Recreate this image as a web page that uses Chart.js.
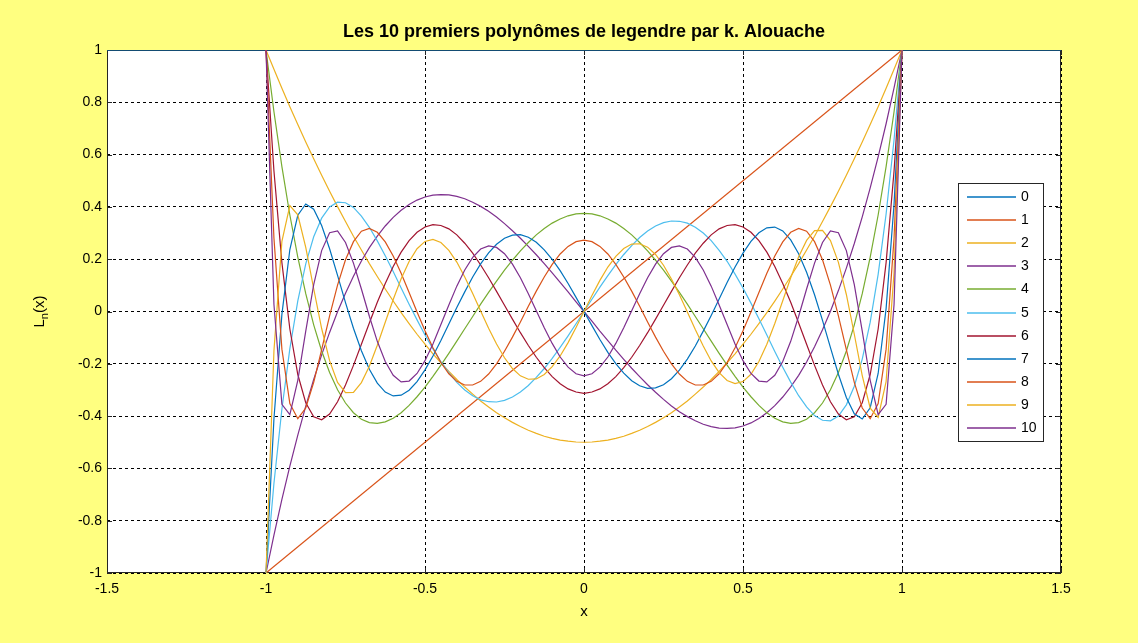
<!DOCTYPE html>
<html>
<head>
<meta charset="utf-8">
<script src="https://cdn.jsdelivr.net/npm/chart.js@4.4.1/dist/chart.umd.min.js"></script>
<style>
  html, body { margin: 0; padding: 0; background: #ffff80; }
  canvas { display: block; }
</style>
</head>
<body>
<canvas id="myChart" width="1138" height="643"></canvas>
<script>
// x samples (step 0.025 on [-1, 1])
var xs = [-1, -0.975, -0.95, -0.925, -0.9, -0.875, -0.85, -0.825, -0.8, -0.775,
  -0.75, -0.725, -0.7, -0.675, -0.65, -0.625, -0.6, -0.575, -0.55, -0.525,
  -0.5, -0.475, -0.45, -0.425, -0.4, -0.375, -0.35, -0.325, -0.3, -0.275,
  -0.25, -0.225, -0.2, -0.175, -0.15, -0.125, -0.1, -0.075, -0.05, -0.025,
  0,
  0.025, 0.05, 0.075, 0.1, 0.125, 0.15, 0.175, 0.2, 0.225, 0.25,
  0.275, 0.3, 0.325, 0.35, 0.375, 0.4, 0.425, 0.45, 0.475, 0.5,
  0.525, 0.55, 0.575, 0.6, 0.625, 0.65, 0.675, 0.7, 0.725, 0.75,
  0.775, 0.8, 0.825, 0.85, 0.875, 0.9, 0.925, 0.95, 0.975, 1];

var xs0 = [-1.5, 1.5];
var p0  = [1, 1];
var xs1 = [-1, 1];
var p1  = [-1, 1];

var p2 = [1, 0.926, 0.854, 0.783, 0.715, 0.648, 0.584, 0.521, 0.46, 0.401, 0.344, 0.288, 0.235, 0.183, 0.134, 0.086, 0.04, -0.004, -0.046, -0.087, -0.125, -0.162, -0.196, -0.229, -0.26, -0.289, -0.316, -0.342, -0.365, -0.387, -0.406, -0.424, -0.44, -0.454, -0.466, -0.477, -0.485, -0.492, -0.496, -0.499,
  -0.5,
  -0.499, -0.496, -0.492, -0.485, -0.477, -0.466, -0.454, -0.44, -0.424, -0.406, -0.387, -0.365, -0.342, -0.316, -0.289, -0.26, -0.229, -0.196, -0.162, -0.125, -0.087, -0.046, -0.004, 0.04, 0.086, 0.134, 0.183, 0.235, 0.288, 0.344, 0.401, 0.46, 0.521, 0.584, 0.648, 0.715, 0.783, 0.854, 0.926, 1];

var p3 = [-1, -0.855, -0.718, -0.591, -0.473, -0.362, -0.26, -0.166, -0.08, -0.001, 0.07, 0.135, 0.193, 0.244, 0.288, 0.327, 0.36, 0.387, 0.409, 0.426, 0.438, 0.445, 0.447, 0.446, 0.44, 0.431, 0.418, 0.402, 0.383, 0.361, 0.336, 0.309, 0.28, 0.249, 0.217, 0.183, 0.148, 0.111, 0.075, 0.037,
  0,
  -0.037, -0.075, -0.111, -0.148, -0.183, -0.217, -0.249, -0.28, -0.309, -0.336, -0.361, -0.383, -0.402, -0.418, -0.431, -0.44, -0.446, -0.447, -0.445, -0.438, -0.426, -0.409, -0.387, -0.36, -0.327, -0.288, -0.244, -0.193, -0.135, -0.07, 0.001, 0.08, 0.166, 0.26, 0.362, 0.473, 0.591, 0.718, 0.855, 1];

var p4 = [1, 0.764, 0.554, 0.369, 0.208, 0.068, -0.051, -0.151, -0.233, -0.299, -0.35, -0.387, -0.412, -0.425, -0.428, -0.422, -0.408, -0.387, -0.359, -0.326, -0.289, -0.248, -0.205, -0.16, -0.113, -0.066, -0.019, 0.028, 0.073, 0.116, 0.158, 0.196, 0.232, 0.264, 0.293, 0.317, 0.338, 0.354, 0.366, 0.373,
  0.375,
  0.373, 0.366, 0.354, 0.338, 0.317, 0.293, 0.264, 0.232, 0.196, 0.158, 0.116, 0.073, 0.028, -0.019, -0.066, -0.113, -0.16, -0.205, -0.248, -0.289, -0.326, -0.359, -0.387, -0.408, -0.422, -0.428, -0.425, -0.412, -0.387, -0.35, -0.299, -0.233, -0.151, -0.051, 0.068, 0.208, 0.369, 0.554, 0.764, 1];

var p5 = [-1, -0.657, -0.373, -0.142, 0.041, 0.182, 0.286, 0.357, 0.4, 0.418, 0.416, 0.398, 0.365, 0.322, 0.27, 0.213, 0.153, 0.09, 0.028, -0.032, -0.09, -0.143, -0.192, -0.234, -0.271, -0.3, -0.322, -0.338, -0.345, -0.346, -0.34, -0.327, -0.308, -0.283, -0.252, -0.218, -0.179, -0.137, -0.093, -0.047,
  0,
  0.047, 0.093, 0.137, 0.179, 0.218, 0.252, 0.283, 0.308, 0.327, 0.34, 0.346, 0.345, 0.338, 0.322, 0.3, 0.271, 0.234, 0.192, 0.143, 0.09, 0.032, -0.028, -0.09, -0.153, -0.213, -0.27, -0.322, -0.365, -0.398, -0.416, -0.418, -0.4, -0.357, -0.286, -0.182, -0.041, 0.142, 0.373, 0.657, 1];

var p6 = [1, 0.537, 0.187, -0.067, -0.241, -0.349, -0.403, -0.414, -0.392, -0.345, -0.281, -0.206, -0.125, -0.044, 0.035, 0.107, 0.172, 0.227, 0.271, 0.303, 0.323, 0.332, 0.329, 0.316, 0.293, 0.261, 0.223, 0.178, 0.129, 0.077, 0.024, -0.029, -0.081, -0.13, -0.175, -0.215, -0.249, -0.276, -0.296, -0.308,
  -0.313,
  -0.308, -0.296, -0.276, -0.249, -0.215, -0.175, -0.13, -0.081, -0.029, 0.024, 0.077, 0.129, 0.178, 0.223, 0.261, 0.293, 0.316, 0.329, 0.332, 0.323, 0.303, 0.271, 0.227, 0.172, 0.107, 0.035, -0.044, -0.125, -0.206, -0.281, -0.345, -0.392, -0.414, -0.403, -0.349, -0.241, -0.067, 0.187, 0.537, 1];

var p7 = [-1, -0.41, -0.011, 0.237, 0.368, 0.411, 0.391, 0.329, 0.24, 0.138, 0.034, -0.064, -0.15, -0.221, -0.274, -0.308, -0.323, -0.32, -0.301, -0.268, -0.223, -0.17, -0.111, -0.048, 0.015, 0.075, 0.132, 0.182, 0.224, 0.257, 0.28, 0.292, 0.294, 0.284, 0.265, 0.236, 0.199, 0.156, 0.107, 0.054,
  0,
  -0.054, -0.107, -0.156, -0.199, -0.236, -0.265, -0.284, -0.294, -0.292, -0.28, -0.257, -0.224, -0.182, -0.132, -0.075, -0.015, 0.048, 0.111, 0.17, 0.223, 0.268, 0.301, 0.32, 0.323, 0.308, 0.274, 0.221, 0.15, 0.064, -0.034, -0.138, -0.24, -0.329, -0.391, -0.411, -0.368, -0.237, 0.011, 0.41, 1];

var p8 = [1, 0.28, -0.144, -0.352, -0.41, -0.369, -0.271, -0.146, -0.017, 0.101, 0.198, 0.267, 0.307, 0.318, 0.303, 0.266, 0.212, 0.146, 0.073, -0.002, -0.074, -0.139, -0.195, -0.238, -0.267, -0.281, -0.281, -0.267, -0.239, -0.2, -0.152, -0.098, -0.04, 0.02, 0.078, 0.132, 0.18, 0.22, 0.249, 0.267,
  0.273,
  0.267, 0.249, 0.22, 0.18, 0.132, 0.078, 0.02, -0.04, -0.098, -0.152, -0.2, -0.239, -0.267, -0.281, -0.281, -0.267, -0.238, -0.195, -0.139, -0.074, -0.002, 0.073, 0.146, 0.212, 0.266, 0.303, 0.318, 0.307, 0.267, 0.198, 0.101, -0.017, -0.146, -0.271, -0.369, -0.41, -0.352, -0.144, 0.28, 1];

var p9 = [-1, -0.15, 0.268, 0.405, 0.37, 0.245, 0.087, -0.065, -0.188, -0.271, -0.31, -0.309, -0.272, -0.209, -0.129, -0.041, 0.046, 0.125, 0.191, 0.24, 0.268, 0.276, 0.264, 0.234, 0.189, 0.132, 0.069, 0.002, -0.064, -0.124, -0.177, -0.218, -0.246, -0.259, -0.258, -0.241, -0.211, -0.17, -0.119, -0.061,
  0,
  0.061, 0.119, 0.17, 0.211, 0.241, 0.258, 0.259, 0.246, 0.218, 0.177, 0.124, 0.064, -0.002, -0.069, -0.132, -0.189, -0.234, -0.264, -0.276, -0.268, -0.24, -0.191, -0.125, -0.046, 0.041, 0.129, 0.209, 0.272, 0.309, 0.31, 0.271, 0.188, 0.065, -0.087, -0.245, -0.37, -0.405, -0.268, 0.15, 1];

var p10 = [1, 0.027, -0.355, -0.394, -0.263, -0.075, 0.103, 0.233, 0.301, 0.308, 0.264, 0.185, 0.086, -0.018, -0.114, -0.191, -0.244, -0.269, -0.266, -0.237, -0.188, -0.124, -0.05, 0.025, 0.097, 0.159, 0.207, 0.239, 0.251, 0.245, 0.221, 0.181, 0.129, 0.068, 0.003, -0.062, -0.122, -0.174, -0.213, -0.238,
  -0.246,
  -0.238, -0.213, -0.174, -0.122, -0.062, 0.003, 0.068, 0.129, 0.181, 0.221, 0.245, 0.251, 0.239, 0.207, 0.159, 0.097, 0.025, -0.05, -0.124, -0.188, -0.237, -0.266, -0.269, -0.244, -0.191, -0.114, -0.018, 0.086, 0.185, 0.264, 0.308, 0.301, 0.233, 0.103, -0.075, -0.263, -0.394, -0.355, 0.027, 1];

var names  = ["0", "1", "2", "3", "4", "5", "6", "7", "8", "9", "10"];
var colors = ["#0072bd", "#d95319", "#edb120", "#7e2f8e", "#77ac30", "#4dbeee",
              "#a2142f", "#0072bd", "#d95319", "#edb120", "#7e2f8e"];

var xTicks = [-1.5, -1, -0.5, 0, 0.5, 1, 1.5];
var yTicks = [-1, -0.8, -0.6, -0.4, -0.2, 0, 0.2, 0.4, 0.6, 0.8, 1];

var titleText = "Les 10 premiers polynômes de legendre par k. Alouache";
var FONT = "'Liberation Sans', Arial, Helvetica, sans-serif";

function pts(xv, yv) {
  var out = [];
  for (var i = 0; i < xv.length; i++) out.push({x: xv[i], y: yv[i]});
  return out;
}

var series = [
  pts(xs0, p0), pts(xs1, p1), pts(xs, p2), pts(xs, p3), pts(xs, p4), pts(xs, p5),
  pts(xs, p6), pts(xs, p7), pts(xs, p8), pts(xs, p9), pts(xs, p10)
];

var datasets = [];
for (var k = 0; k < series.length; k++) {
  datasets.push({
    label: names[k],
    data: series[k],
    borderColor: colors[k],
    backgroundColor: colors[k],
    borderWidth: 1.2,
    pointRadius: 0,
    tension: 0,
    fill: false,
    order: series.length - k
  });
}

// axes box, inner ticks, title, labels and legend drawn like the matlab figure
var matlabBits = {
  id: "matlabBits",
  beforeDraw: function(chart) {
    var ctx = chart.ctx, a = chart.chartArea;
    ctx.save();
    ctx.fillStyle = "#fff";
    ctx.fillRect(a.left, a.top, a.right - a.left, a.bottom - a.top);
    ctx.restore();
  },
  beforeDatasetsDraw: function(chart) {
    var ctx = chart.ctx, a = chart.chartArea;
    var xs_ = chart.scales.x, ys_ = chart.scales.y;
    ctx.save();
    ctx.strokeStyle = "#262626";
    ctx.lineWidth = 1;
    ctx.strokeRect(a.left + 0.5, a.top + 0.5, a.right - a.left - 1, a.bottom - a.top - 1);
    ctx.beginPath();
    xTicks.forEach(function(v) {
      var px = Math.round(xs_.getPixelForValue(v)) + 0.5;
      ctx.moveTo(px, a.bottom); ctx.lineTo(px, a.bottom - 5);
      ctx.moveTo(px, a.top); ctx.lineTo(px, a.top + 5);
    });
    yTicks.forEach(function(v) {
      var py = Math.round(ys_.getPixelForValue(v)) + 0.5;
      ctx.moveTo(a.left, py); ctx.lineTo(a.left + 5, py);
      ctx.moveTo(a.right, py); ctx.lineTo(a.right - 5, py);
    });
    ctx.stroke();
    ctx.restore();
  },
  afterDraw: function(chart) {
    var ctx = chart.ctx, a = chart.chartArea;
    var cx = (a.left + a.right) / 2;
    ctx.save();
    ctx.fillStyle = "#000";
    ctx.textAlign = "center";
    ctx.textBaseline = "middle";
    ctx.font = "bold 18px " + FONT;
    ctx.fillText(titleText, cx, 32);
    ctx.font = "15px " + FONT;
    ctx.fillText("x", cx, 612);

    // y label L_n(x)
    ctx.translate(40, (a.top + a.bottom) / 2);
    ctx.rotate(-Math.PI / 2);
    ctx.textAlign = "left";
    ctx.font = "15px " + FONT;
    var wL = ctx.measureText("L").width, wP = ctx.measureText("(x)").width;
    ctx.font = "11px " + FONT;
    var wn = ctx.measureText("n").width;
    var x0 = -(wL + wn + wP) / 2;
    ctx.font = "15px " + FONT;
    ctx.fillText("L", x0, 0);
    ctx.font = "11px " + FONT;
    ctx.fillText("n", x0 + wL, 5);
    ctx.font = "15px " + FONT;
    ctx.fillText("(x)", x0 + wL + wn, 0);
    ctx.restore();

    // legend box
    var lx = 958, ly = 183, lw = 85, lh = 258;
    ctx.save();
    ctx.fillStyle = "#fff";
    ctx.fillRect(lx, ly, lw, lh);
    ctx.strokeStyle = "#262626";
    ctx.lineWidth = 1;
    ctx.strokeRect(lx + 0.5, ly + 0.5, lw, lh);
    ctx.font = "14px " + FONT;
    ctx.textBaseline = "middle";
    ctx.textAlign = "left";
    chart.data.datasets.forEach(function(ds, i) {
      var yy = Math.round(ly + 14 + i * 23.1);
      ctx.strokeStyle = ds.borderColor;
      ctx.lineWidth = 1.5;
      ctx.beginPath();
      ctx.moveTo(lx + 9, yy);
      ctx.lineTo(lx + 58, yy);
      ctx.stroke();
      ctx.fillStyle = "#000";
      ctx.fillText(ds.label, lx + 63, yy);
    });
    ctx.restore();
  }
};

new Chart("myChart", {
  type: "line",
  data: { datasets: datasets },
  plugins: [matlabBits],
  options: {
    responsive: false,
    animation: false,
    devicePixelRatio: 1,
    layout: { padding: { top: 50, right: 77, left: 0, bottom: 0 } },
    plugins: {
      legend: { display: false },
      title: { display: false },
      tooltip: { enabled: false }
    },
    scales: {
      x: {
        type: "linear",
        min: -1.5,
        max: 1.5,
        afterFit: function(s) { s.height = 70; },
        afterBuildTicks: function(s) { s.ticks = xTicks.map(function(v) { return {value: v}; }); },
        grid: { color: "#000", lineWidth: 1, drawTicks: false },
        border: { display: false, dash: [3, 3] },
        ticks: {
          padding: 8,
          color: "#000",
          maxRotation: 0,
          font: { family: FONT, size: 14 },
          callback: function(v) { return String(Math.round(v * 10) / 10); }
        }
      },
      y: {
        type: "linear",
        min: -1,
        max: 1,
        afterFit: function(s) { s.width = 107; },
        afterBuildTicks: function(s) { s.ticks = yTicks.map(function(v) { return {value: v}; }); },
        grid: { color: "#000", lineWidth: 1, drawTicks: false },
        border: { display: false, dash: [3, 3] },
        ticks: {
          padding: 5,
          color: "#000",
          font: { family: FONT, size: 14 },
          callback: function(v) { return String(Math.round(v * 10) / 10); }
        }
      }
    }
  }
});
</script>
</body>
</html>
